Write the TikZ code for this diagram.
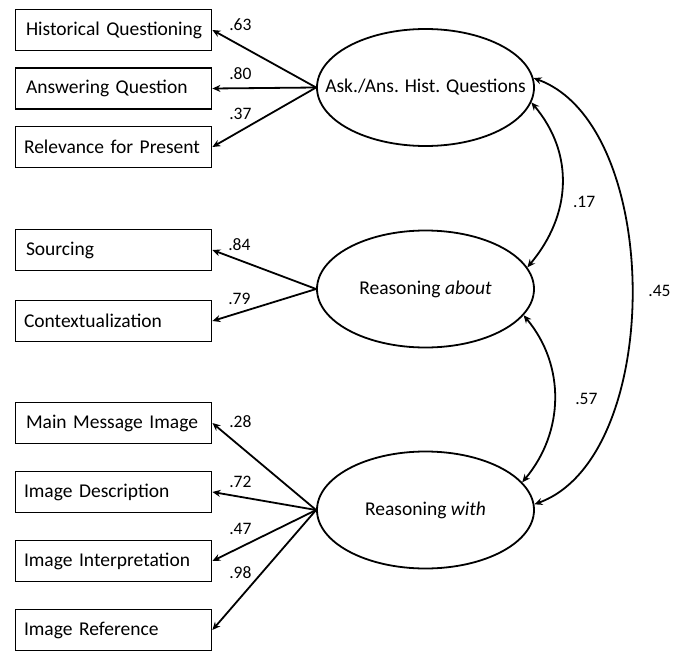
\documentclass[tikz,border=0pt]{standalone}
\usepackage{fontspec}
\setmainfont{Carlito}
\usetikzlibrary{positioning, shapes.geometric, arrows.meta}

\begin{document}
\begin{tikzpicture}[x=1pt, y=1pt, line width=1.8pt, node distance=58.5pt,
	font=\fontsize{19.5}{23}\selectfont,
	indicator/.style={draw, rectangle, minimum height=41pt, text width=179pt, inner xsep=8.5pt, align=left},
	latent/.style={draw, ellipse, minimum width=217pt, minimum height=117pt, inner sep=0pt},
	loading/.style={-{Stealth[length=8pt, width=7pt]}},
	corr/.style={{Stealth[length=8pt, width=7pt]}-{Stealth[length=8pt, width=7pt]}},
	coef/.style={font=\fontsize{17.5}{20}\selectfont, inner sep=0pt}]
	     \useasboundingbox (0,0) rectangle (688,-653);

	     % indicators
	     \node[indicator] (histq) at (113.5,-30) {\hspace*{2pt}Historical Questioning};
	     \node[indicator, below of=histq] (answq) {\hspace*{2pt}Answering Question};
	     \node[indicator, below of=answq] (relev) {Relevance for Present};
	     \node[indicator] (sourc) at (113.5,-250) {\hspace*{2pt}Sourcing};
	     \node[indicator, below of=sourc, node distance=71pt] (context) {Contextualization};
	     \node[indicator] (mainmsg) at (113.5,-423) {\hspace*{2pt}Main Message Image};
	     \node[indicator, below of=mainmsg, node distance=69pt] (imgdesc) {Image Description};
	     \node[indicator, below of=imgdesc, node distance=69pt] (imginter) {Image Interpretation};
	     \node[indicator, below of=imginter, node distance=69pt] (imgref) {Image Reference};

	     % factors
	     \node[latent, label=center:{Ask./Ans. Hist. Questions}] (ask) at (425.5,-87.5) {};
	     \node[latent, label=center:{Reasoning \textit{about}}] (about) at (425.5,-289) {};
	     \node[latent, label=center:{Reasoning \textit{with}}] (with) at (425.5,-510) {};

	     \draw[loading] (ask.west) -- (histq.east) node[coef, pos=0.73, yshift=21pt] {.63};
	     \draw[loading] (ask.west) -- (answq.east) node[coef, pos=0.73, yshift=15pt] {.80};
	     \draw[loading] (ask.west) -- (relev.east) node[coef, pos=0.73, yshift=17pt] {.37};
	     \draw[loading] (about.west) -- (sourc.east) node[coef, pos=0.74, yshift=16pt] {.84};
	     \draw[loading] (about.west) -- (context.east) node[coef, pos=0.74, yshift=14pt] {.79};
	     \draw[loading] (with.west) -- (mainmsg.east) node[coef, pos=0.73, yshift=24.5pt] {.28};
	     \draw[loading] (with.west) -- (imgdesc.east) node[coef, pos=0.73, yshift=15pt] {.72};
	     \draw[loading] (with.west) -- (imginter.east) node[coef, pos=0.73, yshift=18pt] {.47};
	     \draw[loading] (with.west) -- (imgref.east) node[coef, pos=0.73, yshift=25pt] {.98};

	     \draw[corr] (ask.-8) to[out=-50, in=50, looseness=1.05] node[coef, pos=0.6, right=12pt] {.17} (about.12);
	     \draw[corr] (about.-15) to[out=-50, in=50] node[coef, right=20pt] {.57} (with.16);
	     \draw[corr] (ask.5) to[out=-20, in=20, looseness=0.83] node[coef, right=16pt] {.45} (with.3);
	     \end{tikzpicture}
\end{document}
